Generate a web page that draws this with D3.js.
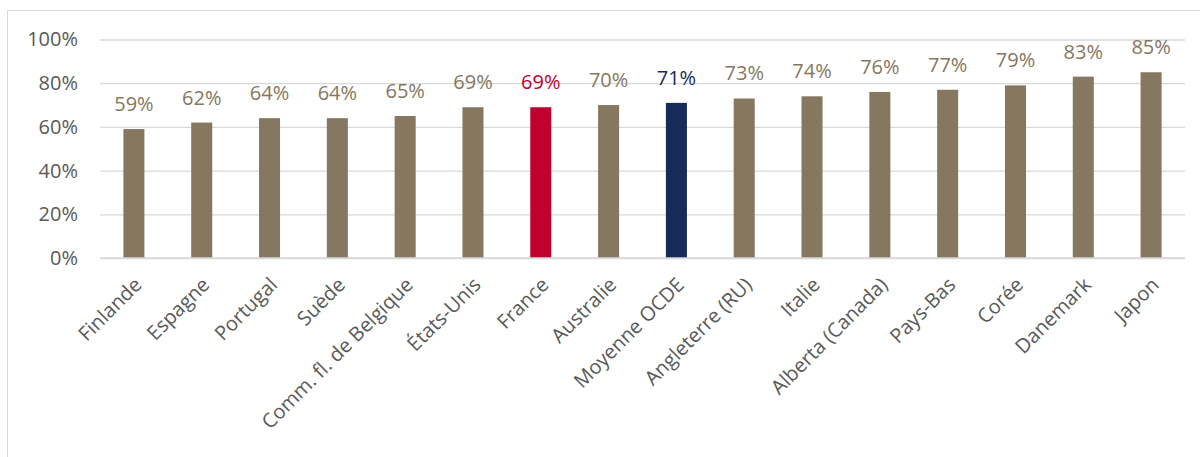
<!DOCTYPE html>
<html><head><meta charset="utf-8">
<script src="https://cdn.jsdelivr.net/npm/d3@7"></script>
<style>body{margin:0;background:#fff}svg{display:block}text{font-family:"Open Sans","Noto Sans",sans-serif}</style>
</head><body>
<script>
const categories = ["Finlande","Espagne","Portugal","Suède","Comm. fl. de Belgique","États-Unis","France","Australie","Moyenne OCDE","Angleterre (RU)","Italie","Alberta (Canada)","Pays-Bas","Corée","Danemark","Japon"];
const values = [59,62,64,64,65,69,69,70,71,73,74,76,77,79,83,85];
const yTicks = [0,20,40,60,80,100];
const highlight = {"France":"#C0002E","Moyenne OCDE":"#172B5A"};
const baseColor = "#857760";

const W=1200,H=457;
const svg=d3.select("body").append("svg").attr("width",W).attr("height",H);
svg.append("rect").attr("x",7.5).attr("y",10.5).attr("width",W).attr("height",H).attr("fill","none").attr("stroke","#D9D9D9");

const x=d3.scaleBand().domain(categories).range([100,1185]).paddingInner(0.69).paddingOuter(0.345);
const y=d3.scaleLinear().domain([0,100]).range([258,39.5]);

const yAxis=svg.append("g").attr("transform","translate(100,0)")
  .call(d3.axisLeft(y).tickValues(yTicks).tickSize(-1085).tickFormat(d=>d+"%").tickPadding(22));
yAxis.select(".domain").remove();
yAxis.selectAll(".tick line").attr("stroke","#D9D9D9").attr("stroke-width",1.3);
yAxis.selectAll(".tick text").attr("fill","#595959").attr("font-size","20px");

svg.append("g").selectAll("rect").data(categories).join("rect")
  .attr("x",d=>x(d)).attr("width",x.bandwidth())
  .attr("y",(d,i)=>y(values[i])).attr("height",(d,i)=>y(0)-y(values[i]))
  .attr("fill",d=>highlight[d]||baseColor);

svg.append("line").attr("x1",100).attr("x2",1185).attr("y1",y(0)).attr("y2",y(0)).attr("stroke","#D9D9D9").attr("stroke-width",1.5);

svg.append("g").selectAll("text").data(categories).join("text")
  .attr("x",d=>x(d)+x.bandwidth()/2).attr("y",(d,i)=>y(values[i])-18)
  .attr("text-anchor","middle").attr("font-size","20px")
  .attr("fill",d=>highlight[d]||baseColor)
  .text((d,i)=>values[i]+"%");

const xAxis=svg.append("g").attr("transform",`translate(0,${y(0)})`)
  .call(d3.axisBottom(x).tickSize(0).tickPadding(0));
xAxis.select(".domain").remove();
xAxis.selectAll(".tick text")
  .attr("fill","#595959").attr("font-size","20px")
  .attr("text-anchor","end").attr("x",0).attr("y",0).attr("dy","0.71em")
  .attr("transform","translate(-1,18) rotate(-45)");
</script>
</body></html>
